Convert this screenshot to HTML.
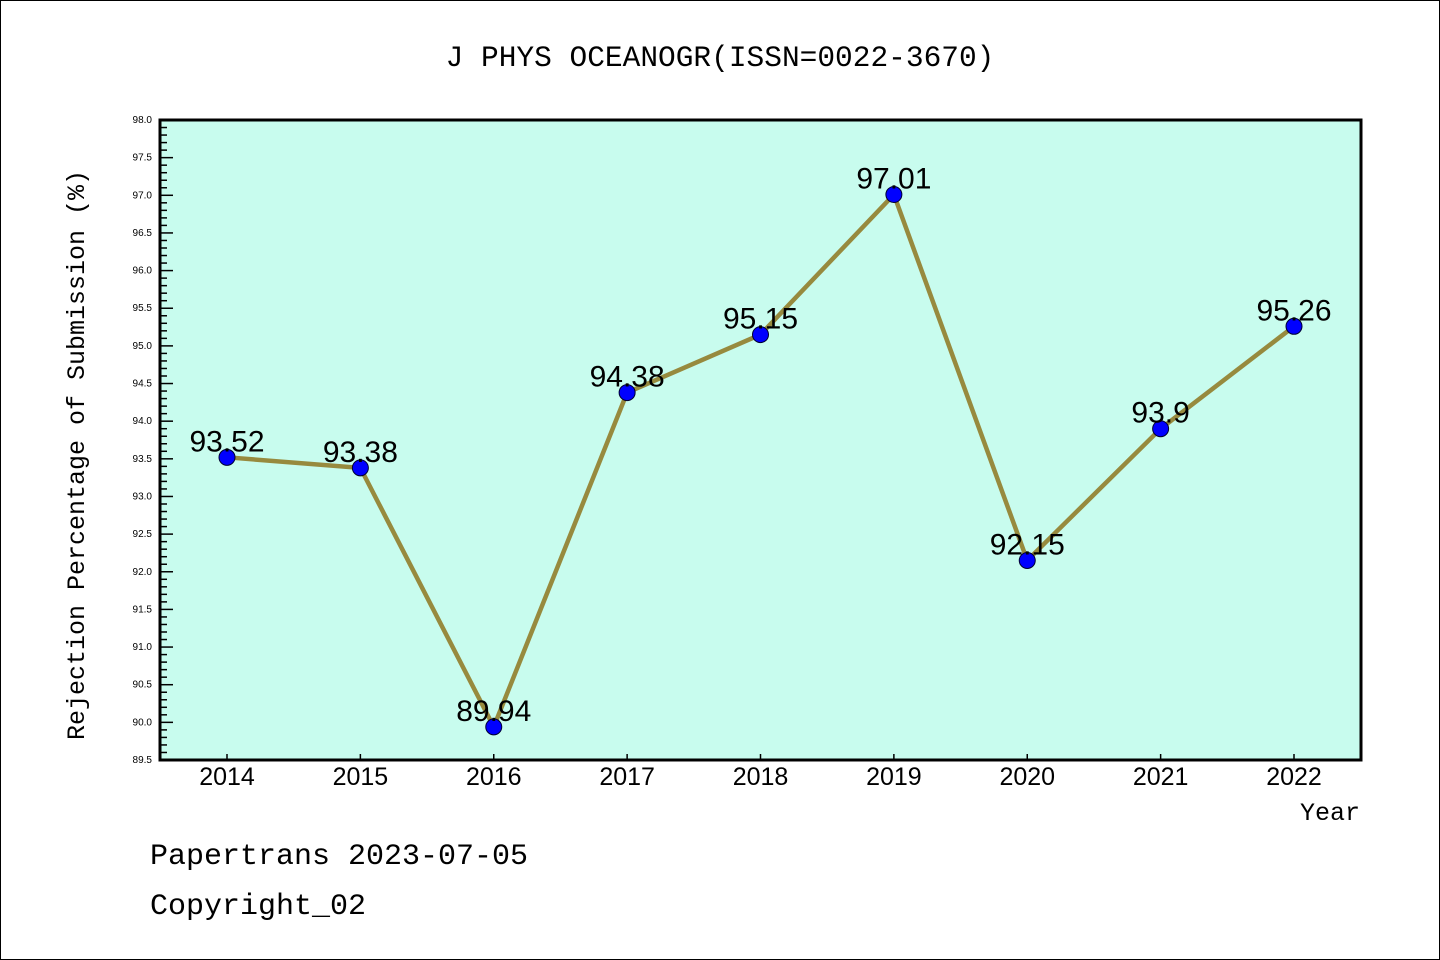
<!DOCTYPE html>
<html><head><meta charset="utf-8"><style>
body{margin:0;background:#fff}
svg{display:block}
text{font-family:"Liberation Sans","WenQuanYi Zen Hei",sans-serif}
.m{font-family:"Liberation Mono","WenQuanYi Zen Hei",monospace}
</style></head><body>
<svg id="c" width="1440" height="960">
<rect x="0.5" y="0.5" width="1439" height="959" fill="#fff" stroke="#000"/>
<text class="m" x="720" y="66" font-size="29.5" text-anchor="middle">J PHYS OCEANOGR(ISSN=0022-3670)</text>
<rect x="160" y="120" width="1201" height="640" fill="#c8fcee"/>
<g id="ticks"></g>
<g id="series"></g>
<rect x="160" y="120" width="1201" height="640" fill="none" stroke="#000" stroke-width="3"/>
<text class="m" x="84" y="455" font-size="25" text-anchor="middle" transform="rotate(-90 84 455)">Rejection Percentage of Submission (%)</text>
<text class="m" x="1360" y="820" font-size="25" text-anchor="end">Year</text>
<text class="m" x="150" y="864" font-size="30">Papertrans 2023-07-05</text>
<text class="m" x="150" y="914" font-size="30">Copyright_02</text>
</svg>
<script>
const years=["2014","2015","2016","2017","2018","2019","2020","2021","2022"];
const values=[93.52,93.38,89.94,94.38,95.15,97.01,92.15,93.9,95.26];
const labels=["93.52","93.38","89.94","94.38","95.15","97.01","92.15","93.9","95.26"];
const yMin=89.5,yMax=98.0;
const NS="http://www.w3.org/2000/svg";
const X=i=>227+i*(1294-227)/(years.length-1);
const Y=v=>760-(v-yMin)/(yMax-yMin)*640;
function mk(t,a,p){const e=document.createElementNS(NS,t);for(const k in a)e.setAttribute(k,a[k]);p.appendChild(e);return e;}
const tk=document.getElementById('ticks');
for(let k=0;k<=85;k++){const v=yMin+k*0.1;const y=Y(v);const major=k%5===0;
 const l=mk('line',{x1:160,x2:160+(major?13:7),y1:y,y2:y,stroke:'#000','stroke-width':1.5},tk);
 
 
 if(major){const t=mk('text',{x:152,y:y+3,'font-size':10,'text-anchor':'end'},tk);t.textContent=v.toFixed(1);
 
 }}
years.forEach((yr,i)=>{const x=X(i);
 const l=mk('line',{x1:x,x2:x,y1:760,y2:754,stroke:'#000','stroke-width':1.5},tk);
 
 
 const t=mk('text',{x:x,y:785,'font-size':25,'text-anchor':'middle'},tk);t.textContent=yr;
 
 });
const s=document.getElementById('series');
const pl=mk('polyline',{points:values.map((v,i)=>X(i)+','+Y(v)).join(' '),fill:'none',stroke:'#978a3e','stroke-width':4.5},s);


values.forEach((v,i)=>{
 const c=mk('circle',{cx:X(i),cy:Y(v),r:8,fill:'#0000ff',stroke:'#000030','stroke-width':1},s);
 
 
 const t=mk('text',{x:X(i),y:Y(v)-6,'font-size':30,'text-anchor':'middle'},s);t.textContent=labels[i];
 
 });
</script>
</body></html>
